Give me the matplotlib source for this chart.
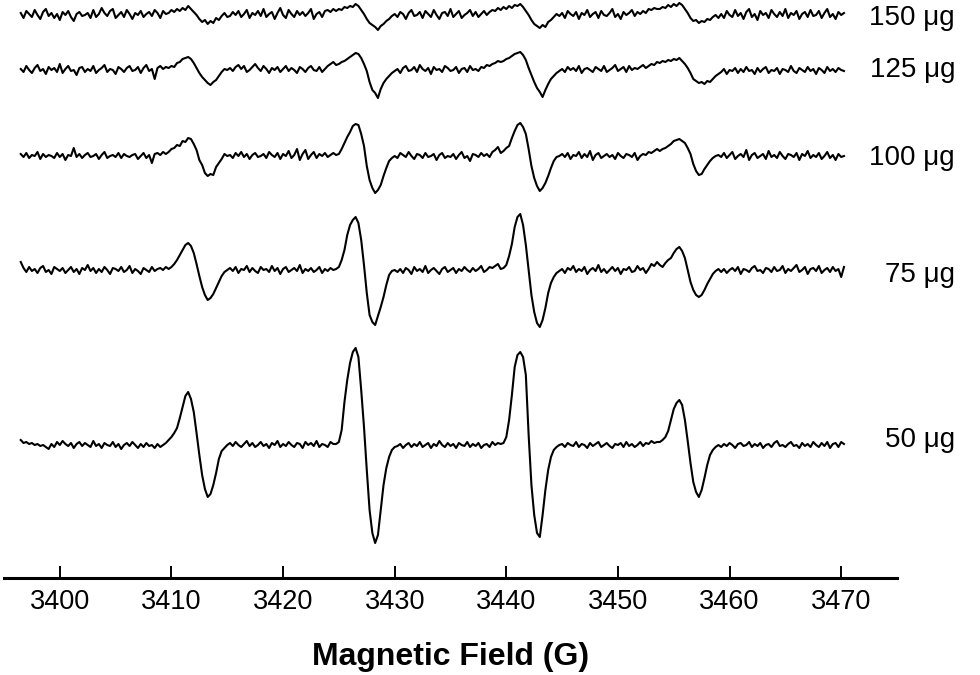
import matplotlib.pyplot as plt
import numpy as np

plt.rcParams['font.family'] = ['Liberation Sans', 'DejaVu Sans']

# field grid of the recorded spectra (G), 0.25 G per sample
field = 3396.5 + 0.25 * np.arange(296)

doses = ["150 μg", "125 μg", "100 μg", "75 μg", "50 μg"]

# signal traces (arbitrary units, baseline = 0)
# segments: baseline | line 1 | baseline | line 2 | baseline | line 3 | baseline | line 4 | baseline
sig_150 = [
    2, -3, 4, 1, -2, 5, 0, -4, 3, 6, -1, 2, -3, 1, -5, 3, 0, 4, -2, -6, 1, 3, -1, 0, 2, -3, 5,
    -2, 1, 7, 2, -1, 4, 6, -3, 0, 3, -2, 5, 1, -4, 2, 0, 4, -2, 1, 3, -1, 5, 2, -3, 4, 1,
    2, 5, 3, 6, 4, 7, 5, 9, 6, 3, 0, -4, -7, -5, -9, -6, -8, -3, -5, -1, 2, -2,
    -1, 3, 0, 4, -2, 1, 5, -3, 2, 0, 4, -1, 6, -2, 1, 3, -4, 2, 7, 0, -3, 5, 1, -2, 4, 0, 3,
    -1, 2, 6, -4, 1, 3, -2, 4, 5, 3, 6,
    4, 6, 5, 8, 7, 9, 8, 11, 9, 5, 1, -4, -8, -10, -12, -15, -11, -9, -6, -4, -1, 1,
    -2, 3, 1, -4, 2, 5, -1, 0, 3, -3, 4, 1, -2, 5, 0, -4, 2, 3, -1, 6, -2, 1, 4, -3, 0, 2, 5,
    -1, 3, -2, 1, 4, 0, 3, 5, 4, 7,
    5, 8, 6, 9, 7, 10, 9, 11, 8, 4, 0, -5, -9, -11, -13, -10, -12, -7, -5, -2, 1, -1,
    2, -3, 4, 1, -1, 3, -4, 2, 0, 5, -2, 1, 3, -3, 4, 0, -1, 2, 6, -2, 1, -4, 3, 0, 2, 5, -1,
    3, 1, 4, 2, 6, 5, 7, 6,
    6, 8, 7, 10, 8, 11, 9, 12, 10, 6, 2, -3, -6, -5, -8, -6, -7, -4, -5, -2, 0, -3,
    1, -3, 4, 0, -2, 5, -1, 2, -4, 3, 6, -2, 1, -5, 4, 0, 2, -3, 5, 1, -2, 3, -1, 6, -3, 2, 0,
    4, -4, 1, 3, -2, 5, -1, 0, 4, -3, 2, 6, -2, 1, -4, 3, 0, 2,
]
sig_125 = [
    1, -2, 4, 0, -3, 2, 5, -1, 1, -4, 3, 0, 2, -2, 6, -3, 1, 4, -1, 0, -5, 2, 3, -2, 1, -1, 4,
    -3, 0, 2, 5, -2, 1, 0, -4, 3, 1, -2, 2, 4, -1, 0, 3, -3, 2, 5, -1, 1, -9, 2, 4, 1, 3,
    2, 4, 3, 7, 8, 11, 12, 13, 11, 7, 2, -3, -7, -10, -13, -15, -12, -10, -6, -2, 1, 0,
    2, -1, 3, 5, 1, 4, -2, 0, 3, 6, 2, -1, 4, 1, -3, 2, 0, 3, -2, 1, 4, -1, 2, 0, -3, 3, 1,
    -2, 2, 4, 0, -1, 3, -2, 1, 4, 6, 8,
    5, 6, 8, 9, 11, 13, 15, 17, 16, 12, 6, -1, -12, -20, -23, -28, -19, -13, -9, -6, -3, -1,
    1, -3, 2, 4, -1, 0, 3, -2, 5, 1, -1, 2, -4, 3, 0, 1, -2, 4, 2, -1, 0, 3, -3, 1, 2, -2, 4,
    0, 1, -1, 3, 2, 5, 4, 6, 7, 9,
    8, 9, 11, 12, 14, 16, 17, 18, 15, 10, 2, -5, -12, -18, -22, -27, -20, -14, -9, -6, -3, -1,
    1, -2, 3, 0, 2, -1, 4, -3, 1, 2, 0, -2, 3, 1, -1, 4, -2, 0, 2, 5, -1, 1, 3, -2, 4, 0, 2,
    1, 3, 5, 2, 4, 6, 5, 8,
    7, 9, 8, 10, 9, 11, 10, 12, 9, 6, 2, -3, -9, -11, -13, -12, -14, -11, -12, -9, -6, -4,
    -2, 1, -4, 0, -1, 2, -3, 1, -2, 3, -1, 0, -4, 2, -2, 1, 3, -3, 0, -1, 2, -4, 1, 0, -2, 4,
    -1, -3, 2, 0, -2, 3, -1, 1, -4, 2, 0, -3, 3, -1, 1, -2, 2, 0, -1,
]
sig_100 = [
    2, -1, 3, -2, 1, 0, 4, -3, 2, -1, 1, 0, -2, 3, -1, 2, -4, 1, 0, 8, -1, 2, -2, 1, 3, -1, 0,
    2, -3, 1, 4, -2, 0, 1, -1, 3, -2, 2, 0, -1, 1, 2, -3, 0, 3, -2, 1, -7, 2, 3, 1, 4, 2,
    4, 7, 8, 11, 10, 15, 14, 18, 17, 12, 6, -4, -9, -17, -20, -18, -19, -11, -7, -3, 2, 0,
    1, -2, 3, 0, 4, -1, 2, -3, 1, 3, -1, 0, 2, -2, 4, 1, -1, 3, -3, 2, 0, 5, -2, 1, 7, -4, 2,
    6, -3, 1, 4, -2, 2, 0, 3, -1, 1, 3,
    1, 2, 7, 13, 19, 24, 30, 32, 31, 22, 10, -10, -24, -32, -37, -34, -29, -20, -12, -5, -2, 0,
    -2, 3, 1, -1, 4, 0, -3, 2, 1, -2, 3, -1, 0, 2, -4, 1, 3, -2, 0, -1, 2, -3, 1, 4, -2, 0, -5,
    2, 1, -1, 3, 0, 2, -1, 4, 6, 9,
    3, 5, 8, 10, 18, 25, 31, 33, 29, 22, 7, -10, -22, -30, -35, -32, -27, -20, -12, -5, -1, 0,
    2, -1, 3, -3, 1, 0, 4, -2, 2, -1, 5, -4, 1, 3, -2, 0, 2, -1, 1, -3, 3, 0, -2, 2, 1, -1, 3,
    -4, 0, 2, 1, 4, 3, 5, 7,
    5, 7, 8, 10, 12, 15, 16, 17, 15, 13, 8, 2, -8, -15, -19, -18, -13, -9, -5, -2, 0, 1,
    -1, 3, -2, 1, 4, -3, 0, 2, -1, 6, -4, 1, 3, -2, 0, 2, -3, 5, -1, 1, -2, 4, 0, -3, 2, 1, -1,
    3, -4, 2, 0, 5, -2, 1, -1, 3, -3, 0, 4, -2, 1, -4, 2, -1, 0,
]
sig_75 = [
    8, 2, -2, 3, -1, 1, -3, 2, 4, -2, 0, -4, 3, 1, -1, 2, -3, 0, 3, -2, 1, -4, 2, 0, 5, -1, 2,
    -3, 1, -2, 3, 0, -4, 2, 1, -1, 3, -2, 0, 4, -3, 1, -1, -4, 2, 0, -2, 3, -1, 1, 2, 0, 3,
    1, 3, 6, 10, 15, 20, 25, 27, 24, 17, 6, -6, -17, -25, -30, -28, -24, -18, -12, -6, -2, 0,
    2, -1, 3, -3, 1, 0, 4, -2, 2, -1, -3, 3, 0, 1, -2, 4, -1, 2, -4, 1, 3, -2, 0, 2, -1, 5, -3,
    1, -1, 2, -2, 0, 3, -3, 1, -1, 2, 0,
    1, 3, 10, 20, 35, 45, 50, 53, 47, 30, 5, -23, -45, -52, -55, -46, -37, -27, -15, -5, -1, 0,
    -2, 1, -3, 2, 0, -4, 3, -1, 1, -2, 4, -3, 0, 2, -1, -4, 1, 3, -2, 0, 2, -3, 1, -1, 3, 0, -2,
    2, -1, 1, 4, -2, 0, 3, 2, 4, 6,
    1, 2, 5, 14, 26, 43, 53, 56, 45, 25, 0, -25, -42, -53, -57, -50, -38, -23, -13, -7, -3, -1,
    1, -3, 2, 0, 4, -2, 1, -1, 3, -4, 0, 2, -1, 5, -2, 1, -3, 0, 3, -1, 2, -4, 1, 0, 3, -2, -1,
    4, 0, 2, -3, 1, 6, 4, 8,
    5, 3, 7, 10, 12, 17, 21, 23, 19, 12, 0, -12, -20, -25, -27, -25, -20, -14, -9, -4, -1, 1,
    -2, 1, -3, 0, 2, -1, 3, -4, 1, 0, -2, 2, 4, -1, 0, -3, 2, 1, -2, 3, -1, 0, 4, -3, 1, -1, 2,
    5, -2, 0, 3, -4, 1, 2, -1, 4, -3, 0, 2, -2, 3, -1, 1, -7, 3,
]
sig_50 = [
    5, 2, 3, 1, 2, 0, 1, -1, 0, -2, -4, 1, -2, 3, 0, 4, 1, -1, 2, -3, 1, 3, -1, 2, 0, -2, 4,
    -1, 1, -3, 2, 0, -1, 3, -2, 1, -4, 0, 2, -1, 3, 0, -3, 1, -2, 2, -1, 0, -3, 1, -2, 0, 2,
    5, 8, 12, 17, 27, 38, 49, 53, 46, 33, 12, -10, -30, -44, -52, -49, -40, -28, -14, -6, -3, 0,
    2, -1, 3, 0, -2, 1, 4, -1, 2, -2, 0, 3, -1, 1, -3, 2, 0, 4, -2, 1, -1, 3, 0, -2, 2, 1, -3,
    3, 0, 2, -1, 4, -2, 1, 0, -2, 3, 1,
    1, 3, 15, 43, 65, 82, 93, 97, 88, 55, 18, -25, -65, -88, -98, -90, -65, -40, -23, -12, -5, -2,
    -1, 1, -3, 0, 2, -2, 1, -1, 3, -2, 0, 2, -3, 1, -1, 4, 0, -2, 2, -1, 1, -3, 2, 0, -1, 3, -2,
    1, -1, 2, -3, 0, 1, -2, 3, 0, 2,
    1, 2, 8, 25, 50, 78, 90, 93, 88, 70, 10, -40, -70, -88, -92, -70, -45, -25, -12, -5, -2, 0,
    1, -2, 2, 0, -1, 3, -2, 1, 0, -3, 2, -1, 1, 3, -2, 0, 2, -1, -3, 1, 0, 2, -2, 3, -1, 1, -2,
    0, 3, -1, 2, 1, 4, 2, 3,
    3, 5, 8, 14, 25, 36, 42, 45, 40, 25, 4, -18, -37, -47, -52, -45, -33, -20, -10, -5, -2, 0,
    -2, 1, -1, 2, 0, -3, 1, 2, -1, 0, 3, -2, 1, -1, 2, -3, 0, 1, -2, 2, 4, -1, 0, -2, 1, 3, -1,
    0, -3, 2, -1, 1, -2, 3, 0, -2, 2, -1, 3, -3, 1, 2, -2, 3, 1,
]
signals = [sig_150, sig_125, sig_100, sig_75, sig_50]

# vertical stacking of the traces and label heights (layout only)
offsets = [563, 508, 422, 308, 133]
label_y = [560, 508, 420, 303, 138]

fig = plt.figure(figsize=(9.8, 6.75), dpi=100)
ax = fig.add_axes([4 / 980, 97 / 675, 893 / 980, 578 / 675])

for sig, off, name, ly in zip(signals, offsets, doses, label_y):
    ax.plot(field, np.array(sig) + off, color="black", lw=1.5)
    ax.text(3480.2, ly, name, ha="right", va="center", fontsize=20)

ax.set_xlim(3395, 3475)
ax.set_ylim(0, 578)
ax.set_xticks(np.arange(3400, 3471, 10))
ax.set_yticks([])
for side in ["left", "top", "right"]:
    ax.spines[side].set_visible(False)
ax.spines["bottom"].set_linewidth(2.2)
ax.tick_params(axis="x", direction="in", length=8.6, width=1.4, pad=8, labelsize=19.5)
ax.set_xlabel("Magnetic Field (G)", fontsize=23, fontweight="bold", labelpad=19)

fig.savefig("out.png", dpi=100)
